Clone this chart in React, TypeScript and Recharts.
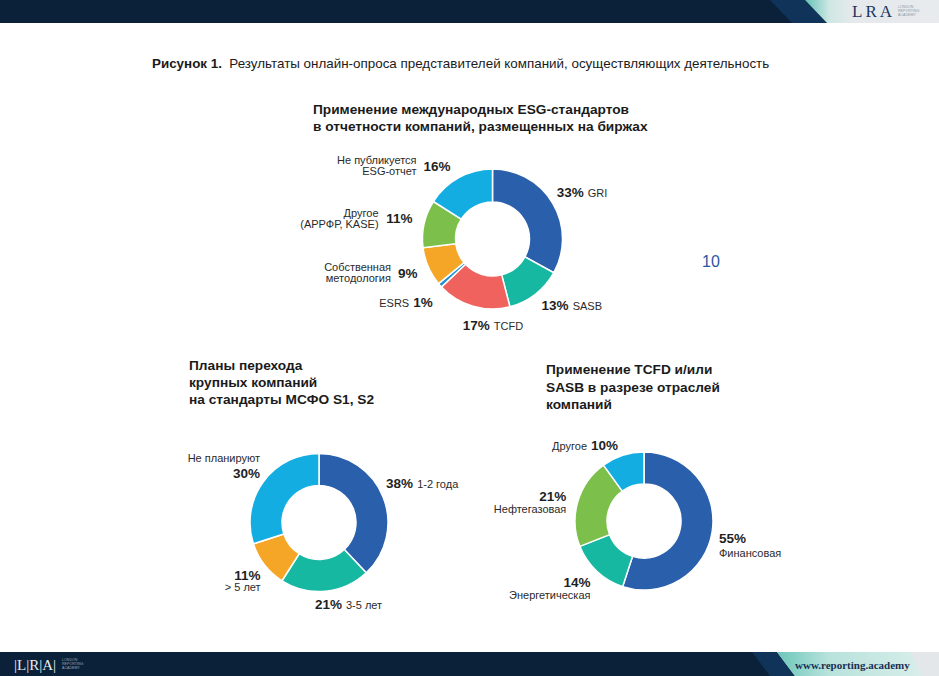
import { PieChart, Pie, Cell } from 'recharts'

// --- data ---
const esgNames = [['GRI'], ['SASB'], ['TCFD'], ['ESRS'], ['Собственная', 'методология'], ['Другое', '(АРРФР, KASE)'], ['Не публикуется', 'ESG-отчет']]
const esgValues = [33, 13, 17, 1, 9, 11, 16]
const esgColors = ['#2a5fab', '#17b8a1', '#f0625e', '#1f8fd2', '#f6a626', '#7cbf4a', '#14ade1']

const planNames = [['1-2 года'], ['3-5 лет'], ['> 5 лет'], ['Не планируют']]
const planValues = [38, 21, 11, 30]
const planColors = ['#2a5fab', '#17b8a1', '#f6a626', '#14ade1']

const sectorNames = [['Финансовая'], ['Энергетическая'], ['Нефтегазовая'], ['Другое']]
const sectorValues = [55, 14, 21, 10]
const sectorColors = ['#2a5fab', '#17b8a1', '#7cbf4a', '#14ade1']

// --- label placement (offsets from the slice mid-angle anchor) ---
type Mode = 'after' | 'before' | 'block' | 'stackStart' | 'stackEnd' | 'nameAbove'
interface LabelPos { mode: Mode; dx: number; dy: number; gap?: number }

const esgLabels: LabelPos[] = [
  { mode: 'after', dx: -9, dy: -4 },
  { mode: 'after', dx: -3, dy: -1 },
  { mode: 'after', dx: -6, dy: 4 },
  { mode: 'before', dx: 4, dy: 7 },
  { mode: 'block', dx: 3, dy: 0 },
  { mode: 'block', dx: 3, dy: -2 },
  { mode: 'block', dx: -1, dy: 1 },
]
const planLabels: LabelPos[] = [
  { mode: 'after', dx: -11, dy: -9 },
  { mode: 'after', dx: -12, dy: -2 },
  { mode: 'stackEnd', dx: 8, dy: 1, gap: 12.5 },
  { mode: 'nameAbove', dx: 9, dy: 0, gap: 15 },
]
const sectorLabels: LabelPos[] = [
  { mode: 'stackStart', dx: -8, dy: 4, gap: 15 },
  { mode: 'stackEnd', dx: 4, dy: 0, gap: 12.5 },
  { mode: 'stackEnd', dx: 3, dy: -2, gap: 13 },
  { mode: 'before', dx: 0, dy: 4 },
]

const RAD = Math.PI / 180
const FONT = '"Liberation Sans", Arial, sans-serif'
const PCT = { fontWeight: 700, fontSize: 13.5, fill: '#1f1f1f' }
const NAME = { fontSize: 11, fill: '#2a2a2a' }

const toRows = (values: number[]) => values.map((v, i) => ({ name: String(i), value: v }))

function makeLabel(names: string[][], values: number[], layout: LabelPos[]) {
  return (props: any) => {
    const { cx, cy, midAngle, outerRadius, index } = props
    const lp = layout[index]
    const r = outerRadius + 15
    const x = cx + r * Math.cos(-midAngle * RAD) + lp.dx
    const y = cy + r * Math.sin(-midAngle * RAD) + lp.dy
    const pct = `${values[index]}%`
    const lines = names[index]
    const gap = lp.gap ?? 11

    if (lp.mode === 'after' || lp.mode === 'before') {
      const after = lp.mode === 'after'
      return (
        <text x={x} y={y + 5} textAnchor={after ? 'start' : 'end'} fontFamily={FONT}>
          {after ? (
            <>
              <tspan {...PCT}>{pct}</tspan>
              <tspan {...NAME} dx={4}>{lines[0]}</tspan>
            </>
          ) : (
            <>
              <tspan {...NAME}>{lines[0]}</tspan>
              <tspan {...PCT} dx={4}>{pct}</tspan>
            </>
          )}
        </text>
      )
    }
    if (lp.mode === 'block') {
      const pw = (pct.length - 1) * 7.5 + 12
      const nx = x - pw - 7
      return (
        <g fontFamily={FONT}>
          <text x={x} y={y + 5} textAnchor="end" {...PCT}>{pct}</text>
          <text x={nx} y={y - 5.5 + 4} textAnchor="end" {...NAME}>{lines[0]}</text>
          <text x={nx} y={y + 5.5 + 4} textAnchor="end" {...NAME}>{lines[1]}</text>
        </g>
      )
    }
    const anchor = lp.mode === 'stackStart' ? 'start' : 'end'
    const ny = lp.mode === 'nameAbove' ? y - gap : y + gap
    return (
      <g fontFamily={FONT}>
        <text x={x} y={y + 5} textAnchor={anchor} {...PCT}>{pct}</text>
        <text x={x} y={ny + 4} textAnchor={anchor} {...NAME}>{lines[0]}</text>
      </g>
    )
  }
}

const titleStyle: React.CSSProperties = {
  position: 'absolute',
  fontFamily: FONT,
  fontWeight: 700,
  fontSize: 13.7,
  lineHeight: '17px',
  color: '#1b1b1b',
  whiteSpace: 'nowrap',
}

function Header() {
  return (
    <svg width={939} height={23} style={{ position: 'absolute', left: 0, top: 0 }}>
      <defs>
        <linearGradient id="hdrLight" x1="805" x2="939" y1="0" y2="0" gradientUnits="userSpaceOnUse">
          <stop offset="0" stopColor="#63c2b5" />
          <stop offset="0.18" stopColor="#cfe7e4" />
          <stop offset="0.35" stopColor="#e5e9ec" />
          <stop offset="1" stopColor="#e7ebee" />
        </linearGradient>
      </defs>
      <rect x={0} y={0} width={939} height={23} fill="#0b2039" />
      <polygon points="770,0 805,0 827,23 792,23" fill="#103459" />
      <polygon points="805,0 939,0 939,23 827,23" fill="url(#hdrLight)" />
      <text x={852} y={17} fontFamily='"Liberation Serif", serif' fontSize={17} letterSpacing={3} fill="#1d3560">LRA</text>
      <g fontFamily={FONT} fontSize={3.6} fill="#8d97a4">
        <text x={898} y={8}>LONDON</text>
        <text x={898} y={12}>REPORTING</text>
        <text x={898} y={16}>ACADEMY</text>
      </g>
    </svg>
  )
}

function Footer() {
  return (
    <svg width={939} height={24} style={{ position: 'absolute', left: 0, top: 652 }}>
      <defs>
        <linearGradient id="ftrLight" x1="777" x2="925" y1="0" y2="0" gradientUnits="userSpaceOnUse">
          <stop offset="0" stopColor="#6cc7ba" />
          <stop offset="0.35" stopColor="#b8e2dc" />
          <stop offset="1" stopColor="#d9eeea" />
        </linearGradient>
      </defs>
      <rect x={0} y={0} width={939} height={24} fill="#0b2039" />
      <polygon points="752,0 777,0 795,24 770,24" fill="#103459" />
      <polygon points="777,0 939,0 939,24 795,24" fill="#e3e7ea" />
      <polygon points="777,0 910,0 922,24 795,24" fill="url(#ftrLight)" />
      <text x={795} y={17} fontFamily='"Liberation Serif", serif' fontSize={11} fontWeight={700} fill="#1b2f52">www.reporting.academy</text>
      <text x={14} y={18} fontFamily='"Liberation Serif", serif' fontSize={15} fill="#e6ebf1">|L|R|A|</text>
      <g fontFamily={FONT} fontSize={3.6} fill="#9aa6b5">
        <text x={62} y={9}>LONDON</text>
        <text x={62} y={13}>REPORTING</text>
        <text x={62} y={17}>ACADEMY</text>
      </g>
    </svg>
  )
}

export default function App() {
  return (
    <div style={{ position: 'fixed', left: 0, top: 0, width: 939, height: 676, background: '#fff', overflow: 'hidden' }}>
      <Header />
      <Footer />

      <div style={{ ...titleStyle, left: 152, top: 56, fontWeight: 400, fontSize: 13.4, lineHeight: '16px' }}>
        <b>Рисунок 1.</b>&nbsp; Результаты онлайн-опроса представителей компаний, осуществляющих деятельность
      </div>

      <div style={{ ...titleStyle, left: 313, top: 101 }}>
        Применение международных ESG-стандартов<br />в отчетности компаний, размещенных на биржах
      </div>
      <div style={{ ...titleStyle, left: 189, top: 357 }}>
        Планы перехода<br />крупных компаний<br />на стандарты МСФО S1, S2
      </div>
      <div style={{ ...titleStyle, left: 546, top: 361, lineHeight: '17.5px' }}>
        Применение TCFD и/или<br />SASB в разрезе отраслей<br />компаний
      </div>
      <div style={{ position: 'absolute', left: 702, top: 253, fontFamily: FONT, fontSize: 16, color: '#2c55a4' }}>10</div>

      <PieChart width={939} height={676} margin={{ top: 0, right: 0, bottom: 0, left: 0 }} style={{ position: 'absolute', left: 0, top: 0 }}>
        <Pie
          data={toRows(esgValues)}
          dataKey="value"
          cx={492.5}
          cy={239}
          innerRadius={37}
          outerRadius={70}
          startAngle={90}
          endAngle={-270}
          stroke="#fff"
          strokeWidth={1.5}
          isAnimationActive={false}
          labelLine={false}
          label={makeLabel(esgNames, esgValues, esgLabels)}
        >
          {esgValues.map((_, i) => (
            <Cell key={i} fill={esgColors[i]} />
          ))}
        </Pie>
        <Pie
          data={toRows(planValues)}
          dataKey="value"
          cx={319}
          cy={522.5}
          innerRadius={37}
          outerRadius={69}
          startAngle={90}
          endAngle={-270}
          stroke="#fff"
          strokeWidth={1.5}
          isAnimationActive={false}
          labelLine={false}
          label={makeLabel(planNames, planValues, planLabels)}
        >
          {planValues.map((_, i) => (
            <Cell key={i} fill={planColors[i]} />
          ))}
        </Pie>
        <Pie
          data={toRows(sectorValues)}
          dataKey="value"
          cx={644}
          cy={521}
          innerRadius={37}
          outerRadius={69}
          startAngle={90}
          endAngle={-270}
          stroke="#fff"
          strokeWidth={1.5}
          isAnimationActive={false}
          labelLine={false}
          label={makeLabel(sectorNames, sectorValues, sectorLabels)}
        >
          {sectorValues.map((_, i) => (
            <Cell key={i} fill={sectorColors[i]} />
          ))}
        </Pie>
      </PieChart>
    </div>
  )
}
